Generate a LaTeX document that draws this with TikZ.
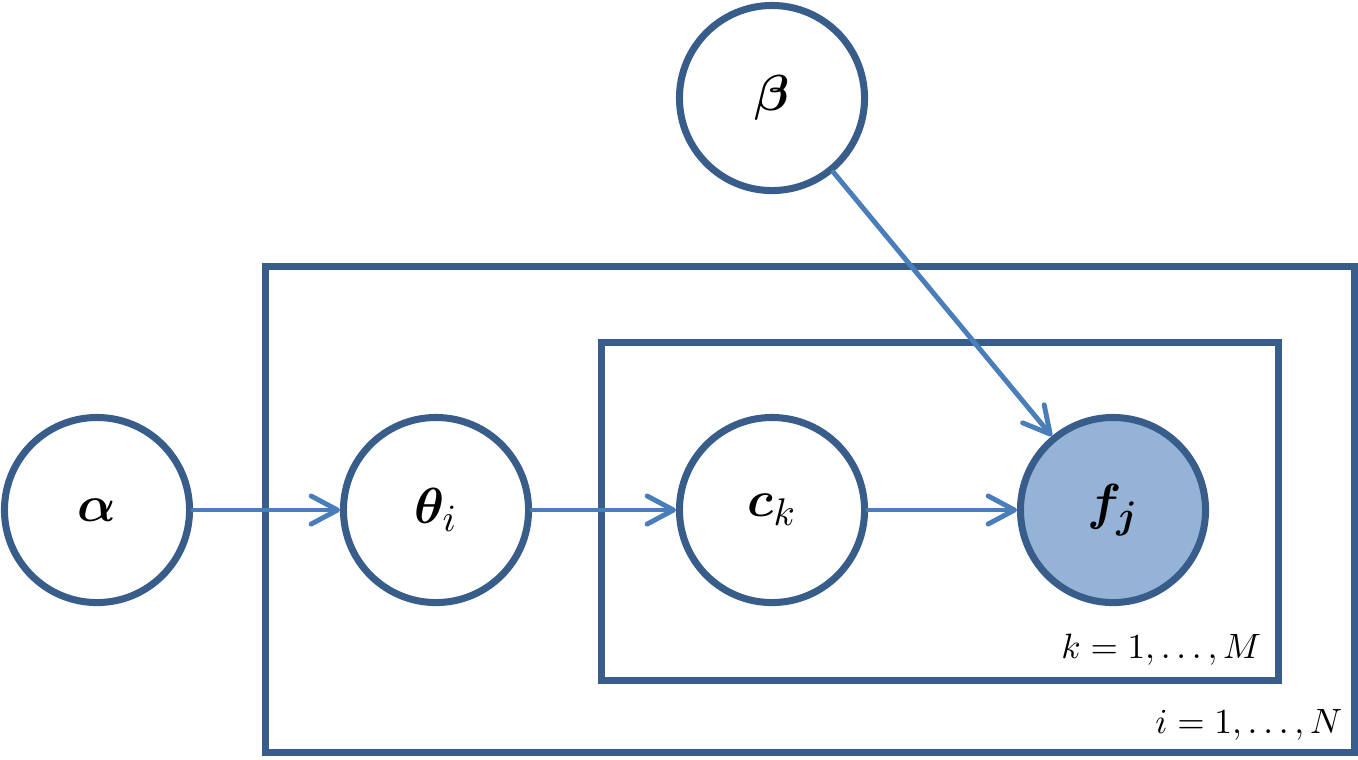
\documentclass[tikz,border=0pt]{standalone}
\usepackage{amsmath, bm}
\usepackage{tikz}
\usetikzlibrary{arrows.meta}
\definecolor{edgeblue}{RGB}{56,93,138}
\definecolor{arrowblue}{RGB}{74,126,187}
\definecolor{obsfill}{RGB}{149,179,215}
\tikzset{
	varnode/.style={circle, draw=edgeblue, fill=white, line width=2pt, minimum size=1.85cm, inner sep=0pt, font=\fontsize{15}{18}\selectfont},
	obsnode/.style={varnode, fill=obsfill},
	platenode/.style={rectangle, draw=edgeblue, line width=2pt, inner sep=0pt},
	platelabel/.style={anchor=base east, inner sep=0pt, font=\fontsize{10}{12}\selectfont},
	myarrow/.style={-{Straight Barb[length=7.5pt,width=8pt,line cap=round,line join=round]}, draw=arrowblue, line width=1.4pt, line cap=round}
}

\begin{document}
\begin{tikzpicture}[x=0.01cm, y=-0.01cm]
		\useasboundingbox (0,0) rectangle (1358,759);
		\node[platenode, minimum width=10.88cm, minimum height=4.85cm] at (810,509.5) (outer) {};
		\node[platenode, minimum width=6.76cm, minimum height=3.37cm] at (940,511.5) (inner) {};
		\node[platelabel] at (1262,658) (labM) {$k = 1, \ldots, M$};
		\node[platelabel] at (1343,733) (labN) {$i = 1, \ldots, N$};
		\node[varnode] at (97,510) (alpha) {$\bm{\alpha}$};
		\node[varnode] at (436,510) (theta) {$\bm{\theta}_i$};
		\node[varnode] at (772,510) (c) {$\bm{c}_k$};
		\node[obsnode] at (1113,510) (f) {$\bm{f}_{\bm{j}}$};
		\node[varnode] at (772,98) (beta) {$\bm{\beta}$};
		\draw[myarrow] (alpha) -- (theta);
		\draw[myarrow] (theta) -- (c);
		\draw[myarrow] (c) -- (f);
		\draw[myarrow] (beta) -- (f);
	\end{tikzpicture}
\end{document}
